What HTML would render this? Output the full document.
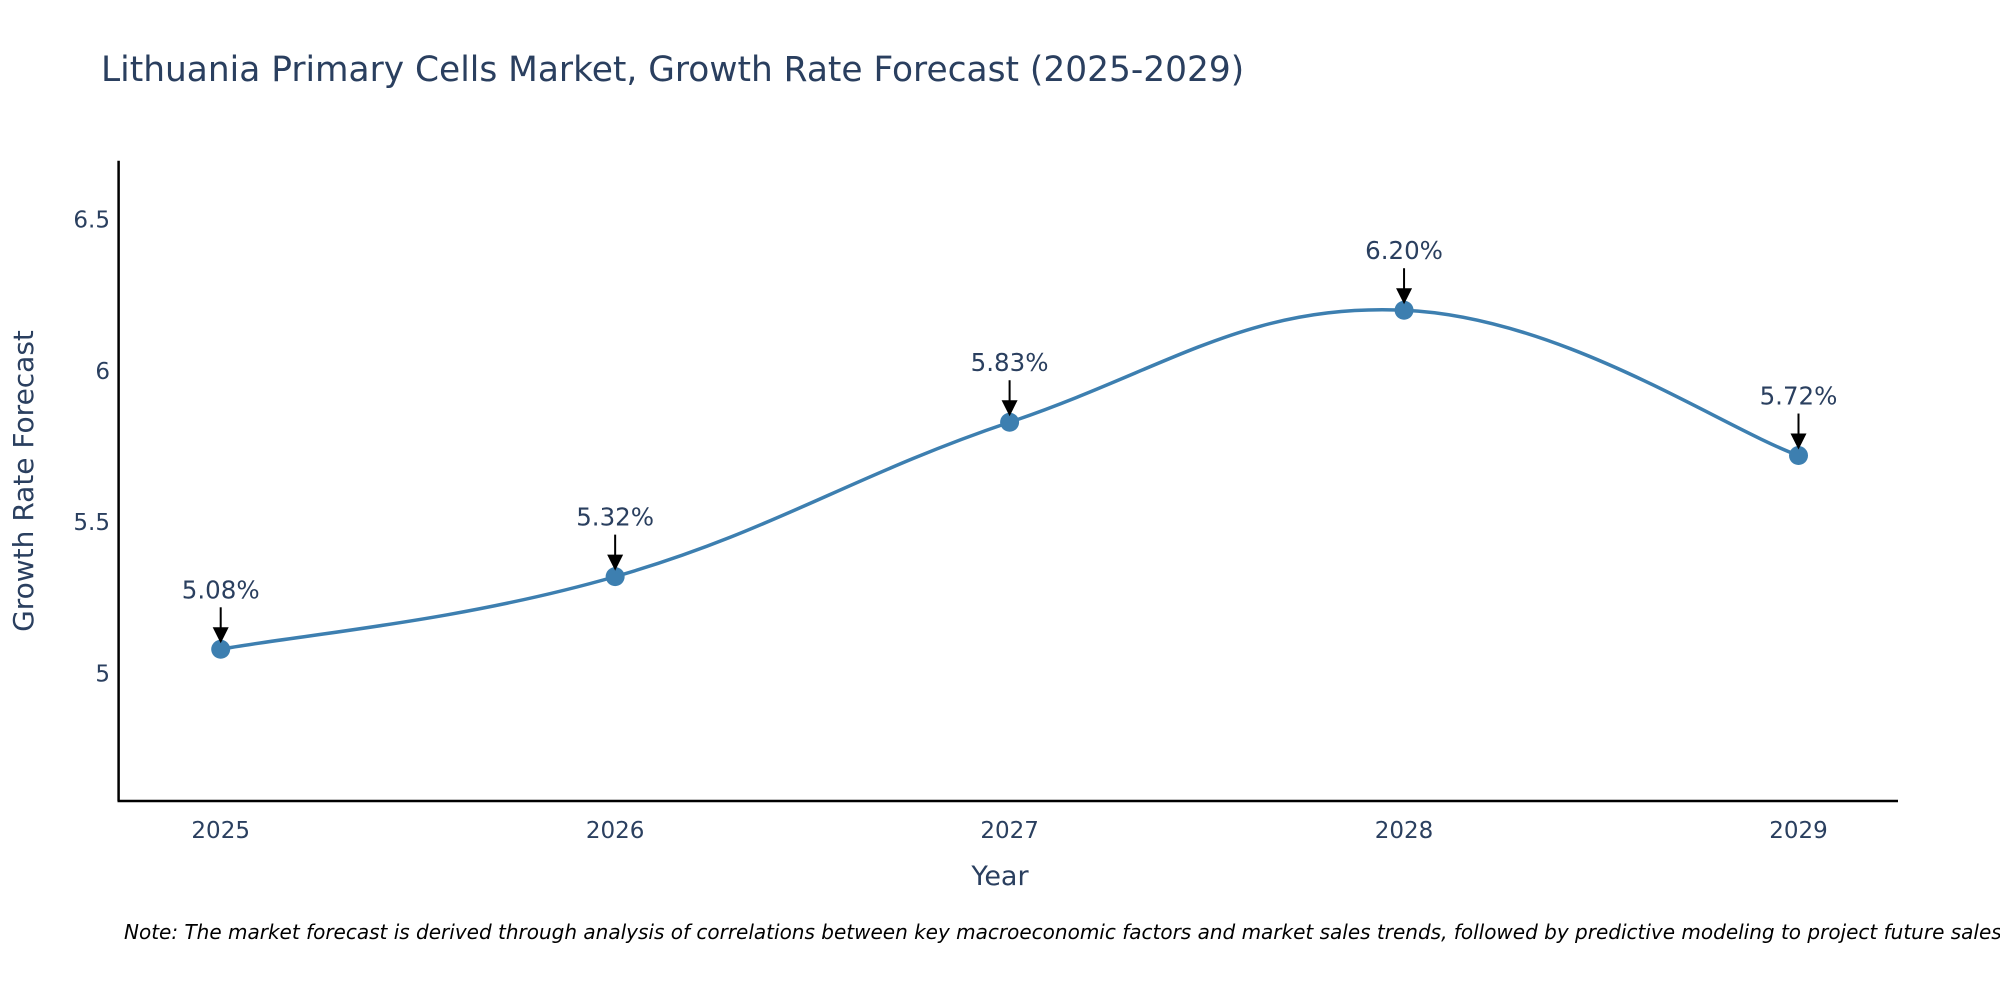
<!DOCTYPE html>
<html><head><meta charset="utf-8"><style>
html,body{margin:0;padding:0;background:#fff;width:2000px;height:1000px;overflow:hidden}
svg{font-family:"DejaVu Sans","Liberation Sans",sans-serif}
</style></head><body>
<svg id="chart" width="2000" height="1000">
<text x="101" y="81" font-size="34.4" fill="#2a3f5f">Lithuania Primary Cells Market, Growth Rate Forecast (2025-2029)</text>
<g id="grid"></g>
<g id="series"></g>
<g id="annots"></g>
<line x1="118.6" y1="160.7" x2="118.6" y2="801" stroke="#000" stroke-width="2.5"/>
<line x1="117.5" y1="801" x2="1898" y2="801" stroke="#000" stroke-width="2.5"/>
<text x="1000" y="885" font-size="27" fill="#2a3f5f" text-anchor="middle">Year</text>
<text transform="translate(33,481) rotate(-90)" font-size="28" fill="#2a3f5f" text-anchor="middle">Growth Rate Forecast</text>
<text x="124" y="939" font-size="20" font-style="italic" fill="#000">Note: The market forecast is derived through analysis of correlations between key macroeconomic factors and market sales trends, followed by predictive modeling to project future sales.</text>
</svg>
<script>
const years=[2025,2026,2027,2028,2029];
const values=[5.08,5.32,5.83,6.20,5.72];
const labels=["5.08%","5.32%","5.83%","6.20%","5.72%"];
const yTicks=[5,5.5,6,6.5];
const yTickLabels=["5","5.5","6","6.5"];
const NS="http://www.w3.org/2000/svg";
const xs=v=>220.7+(v-2025)*(1798.5-220.7)/4;
const ys=v=>673.5-(v-5)*(673.5-219.4)/1.5;
function mk(tag,attrs,parent){const e=document.createElementNS(NS,tag);for(const k in attrs)e.setAttribute(k,attrs[k]);parent.appendChild(e);return e;}
const grid=document.getElementById('grid');
yTicks.forEach((t,i)=>{
 const el=mk('text',{x:110,y:ys(t)+8,'font-size':23,fill:'#2a3f5f','text-anchor':'end'},grid);
 el.textContent=yTickLabels[i];
 
 
});
years.forEach(y=>{
 const el=mk('text',{x:xs(y),y:838,'font-size':23,fill:'#2a3f5f','text-anchor':'middle'},grid);
 el.textContent=String(y);
 
 
});
const pts=years.map((y,i)=>[xs(y),ys(values[i])]);
let d='M'+pts[0][0]+','+pts[0][1];
const s=0.2;
for(let i=0;i<pts.length-1;i++){
 const p0=pts[Math.max(i-1,0)],p1=pts[i],p2=pts[i+1],p3=pts[Math.min(i+2,pts.length-1)];
 const c1=[p1[0]+(p2[0]-p0[0])*s,p1[1]+(p2[1]-p0[1])*s];
 const c2=[p2[0]-(p3[0]-p1[0])*s,p2[1]-(p3[1]-p1[1])*s];
 d+=` C${c1[0]},${c1[1]} ${c2[0]},${c2[1]} ${p2[0]},${p2[1]}`;
}
const series=document.getElementById('series');
const path=mk('path',{d:d,fill:'none',stroke:'#3d7fb0','stroke-width':3.5},series);


const ann=document.getElementById('annots');
pts.forEach((p,i)=>{
 const c=mk('circle',{cx:p[0],cy:p[1],r:9.5,fill:'#3d7fb0'},series);
 
 
 const l=mk('line',{x1:p[0],y1:p[1]-42,x2:p[0],y2:p[1]-20,stroke:'#000','stroke-width':2},ann);
 
 
 const h=mk('polygon',{points:`${p[0]-8},${p[1]-22} ${p[0]+8},${p[1]-22} ${p[0]},${p[1]-6}`,fill:'#000'},ann);
 
 
 const t=mk('text',{x:p[0],y:p[1]-51,'font-size':24.5,fill:'#2a3f5f','text-anchor':'middle'},ann);
 t.textContent=labels[i];
 
 
});
</script>
</body></html>
